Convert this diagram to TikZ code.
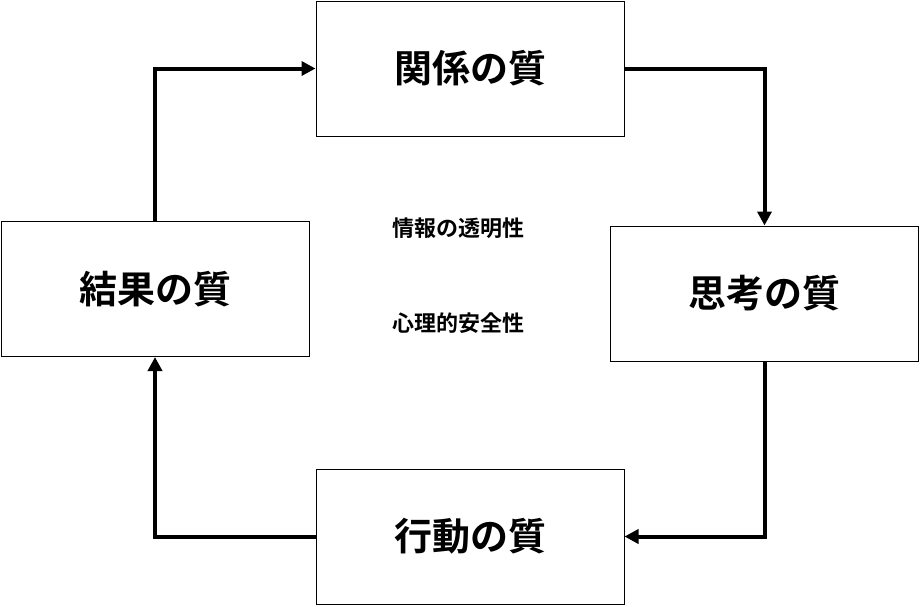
\documentclass[tikz,border=0pt]{standalone}
\usepackage{fontspec}
\newfontfamily\cjk{Noto Sans CJK JP}[BoldFont={Noto Sans CJK JP Bold}]
\usetikzlibrary{arrows.meta}
\begin{document}
\begin{tikzpicture}[x=1pt,y=-1pt,
  box/.style={draw=black,line width=1pt,minimum width=308pt,minimum height=135pt,font=\cjk\bfseries\fontsize{38}{40}\selectfont,inner sep=0pt},
  lbl/.style={font=\cjk\bfseries\fontsize{22}{24}\selectfont},
  arr/.style={line width=4pt,-{Triangle[length=14pt,width=14pt]}}]
\useasboundingbox (0,0) rectangle (920,606);
\node[box] (rel) at (470,68.5) {関係の質};
\node[box] (thk) at (764.5,293.5) {思考の質};
\node[box] (act) at (470,536.5) {行動の質};
\node[box] (res) at (155,289) {結果の質};
\node[lbl] (t1) at (458,228) {情報の透明性};
\node[lbl] (t2) at (458,323) {心理的安全性};
\draw[arr] (rel.east) -| (thk.north);
\draw[arr] (thk.south) |- (act.east);
\draw[arr] (act.west) -| (res.south);
\draw[arr] (res.north) |- (rel.west);
\end{tikzpicture}
\end{document}
